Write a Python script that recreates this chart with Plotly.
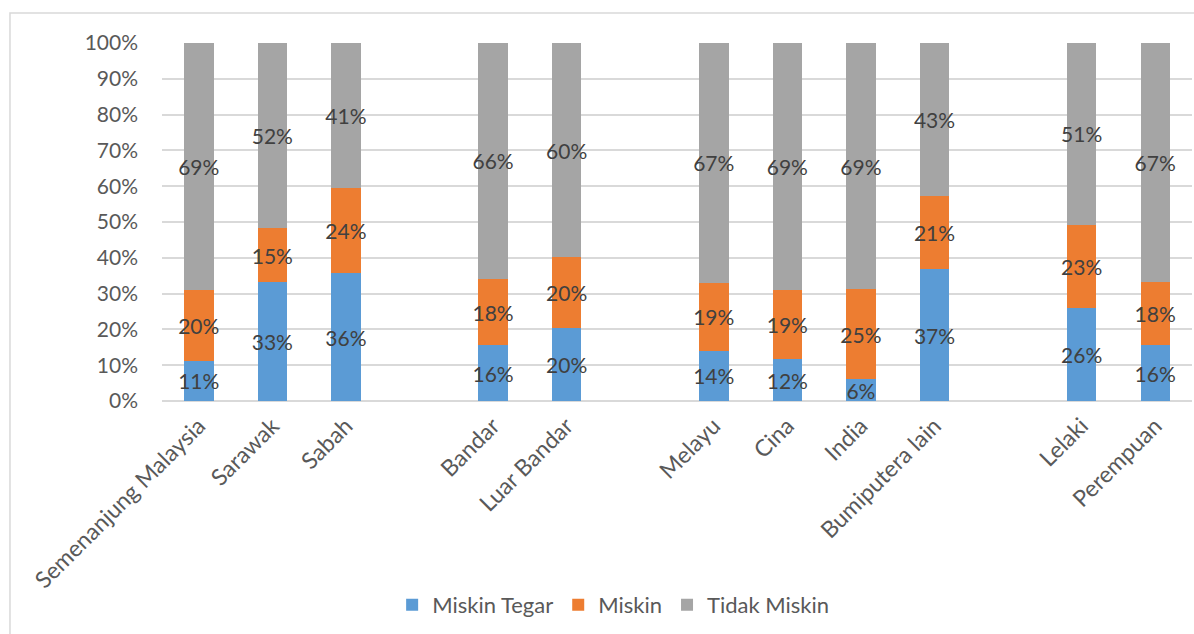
import plotly.graph_objects as go

# Category labels and their slot positions (empty slots separate the groups)
categories = ["Semenanjung Malaysia", "Sarawak", "Sabah",
              "Bandar", "Luar Bandar",
              "Melayu", "Cina", "India", "Bumiputera lain",
              "Lelaki", "Perempuan"]
slots = [0, 1, 2, 4, 5, 7, 8, 9, 10, 12, 13]

# Share of each poverty status (%)
miskin_tegar = [11.2, 33.2, 35.7, 15.6, 20.5, 14.0, 11.7, 6.1, 36.8, 25.9, 15.6]
miskin = [19.8, 15.1, 23.7, 18.5, 19.7, 19.0, 19.3, 25.1, 20.6, 23.4, 17.6]
tidak_miskin = [69.0, 51.7, 40.6, 65.9, 59.8, 67.0, 69.0, 68.8, 42.6, 50.7, 66.8]

series = [
    ("Miskin Tegar", miskin_tegar, "#5b9bd5"),
    ("Miskin", miskin, "#ed7d31"),
    ("Tidak Miskin", tidak_miskin, "#a5a5a5"),
]

FONT = "Lato, Calibri, sans-serif"
TEXT = "#404040"
AXIS_TEXT = "#595959"

fig = go.Figure()
for name, vals, color in series:
    fig.add_trace(go.Bar(
        name=name,
        x=slots,
        y=vals,
        width=0.4,
        marker=dict(color=color, line=dict(width=0)),
        text=[f"{round(v)}%" for v in vals],
        textposition="inside",
        insidetextanchor="middle",
        constraintext="none",
        textangle=0,
        insidetextfont=dict(family=FONT, size=21, color=TEXT),
        cliponaxis=False,
    ))

fig.update_layout(
    barmode="stack",
    width=1194,
    height=634,
    margin=dict(l=162, r=2, t=43, b=233),
    paper_bgcolor="white",
    plot_bgcolor="white",
    font=dict(family=FONT, size=21, color=AXIS_TEXT),
    showlegend=True,
    legend=dict(
        orientation="h",
        x=0.438, xanchor="center",
        y=-0.57, yanchor="middle",
        font=dict(family=FONT, size=22, color=AXIS_TEXT),
        traceorder="normal",
        itemsizing="constant",
    ),
    xaxis=dict(
        range=[-0.5, 13.5],
        tickmode="array",
        tickvals=slots,
        ticktext=categories,
        tickangle=-45,
        ticklabelstandoff=6,
        showgrid=False,
        zeroline=False,
        showline=False,
        ticks="",
        tickfont=dict(family=FONT, size=23, color=AXIS_TEXT),
    ),
    yaxis=dict(
        range=[0, 100],
        tickmode="array",
        tickvals=list(range(0, 101, 10)),
        ticktext=[f"{v}%" for v in range(0, 101, 10)],
        showgrid=True,
        gridcolor="#d9d9d9",
        gridwidth=1.5,
        zeroline=True,
        zerolinecolor="#d9d9d9",
        zerolinewidth=2,
        showline=False,
        ticks="",
        ticklabelstandoff=23,
        tickfont=dict(family=FONT, size=21, color=AXIS_TEXT),
    ),
    shapes=[dict(
        type="rect", xref="paper", yref="paper",
        x0=-0.1476, x1=1.2, y0=-0.8, y1=1.0838,
        line=dict(color="#d9d9d9", width=1.5),
        fillcolor="rgba(0,0,0,0)",
        layer="below",
    )],
)

fig.write_html("out.html")
